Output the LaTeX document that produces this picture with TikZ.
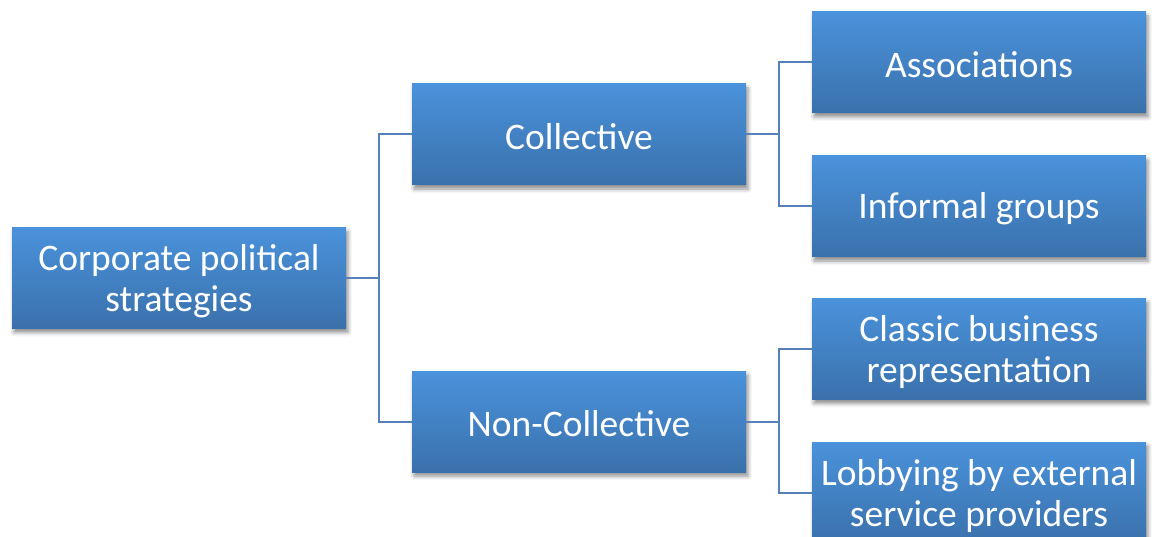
\documentclass[tikz,border=0pt]{standalone}
\usepackage{fontspec}
\setmainfont{Carlito}
\usetikzlibrary{shadows.blur}
\definecolor{boxtop}{HTML}{4A92DB}
\definecolor{boxbot}{HTML}{3A71AC}
\definecolor{wirecol}{HTML}{5580B8}
\begin{document}
\begin{tikzpicture}[x=1pt,y=-1pt,
  box/.style={rectangle, minimum width=334pt, minimum height=101pt, inner sep=0pt,
    top color=boxtop, bottom color=boxbot,
    blur shadow={shadow xshift=2pt, shadow yshift=-4pt, shadow blur radius=4pt, shadow opacity=45}},
  boxtext/.style={text=white, align=center, inner sep=0pt,
    font=\fontsize{37.5}{41}\selectfont},
  wire/.style={draw=wirecol, line width=2pt}]
\useasboundingbox (0,0) rectangle (1156,537);
\clip (0,0) rectangle (1156,537);

% tree levels: boxes
\node[box] (root) at (179,278) {};
\node[box] (coll) at (579,134.5) {};
\node[box] (ncoll) at (579,421.5) {};
\node[box] (assoc) at (979,62.5) {};
\node[box] (infor) at (979,206.5) {};
\node[box] (classic) at (979,349) {};
\node[box] (lobby) at (979,492.5) {};

% labels, set a little below each box centre
\node[boxtext] (rootT) at ([shift={(0,3)}]root.center) {Corporate political\\strategies};
\node[boxtext] (collT) at ([shift={(0,2)}]coll.center) {Collective};
\node[boxtext] (ncollT) at ([shift={(0,2)}]ncoll.center) {Non-Collective};
\node[boxtext] (assocT) at ([shift={(0,2)}]assoc.center) {Associations};
\node[boxtext] (inforT) at ([shift={(0,2)}]infor.center) {Informal groups};
\node[boxtext] (classicT) at ([shift={(0,3)}]classic.center) {Classic business\\representation};
\node[boxtext] (lobbyT) at ([shift={(0,3)}]lobby.center) {Lobbying by external\\service providers};

% elbow connectors
\draw[wire] (root.east) -- ++(33,0) |- (coll.west);
\draw[wire] (root.east) -- ++(33,0) |- (ncoll.west);
\draw[wire] (coll.east) -- ++(33,0) |- (assoc.west);
\draw[wire] (coll.east) -- ++(33,0) |- (infor.west);
\draw[wire] (ncoll.east) -- ++(33,0) |- (classic.west);
\draw[wire] (ncoll.east) -- ++(33,0) |- (lobby.west);
\end{tikzpicture}
\end{document}
